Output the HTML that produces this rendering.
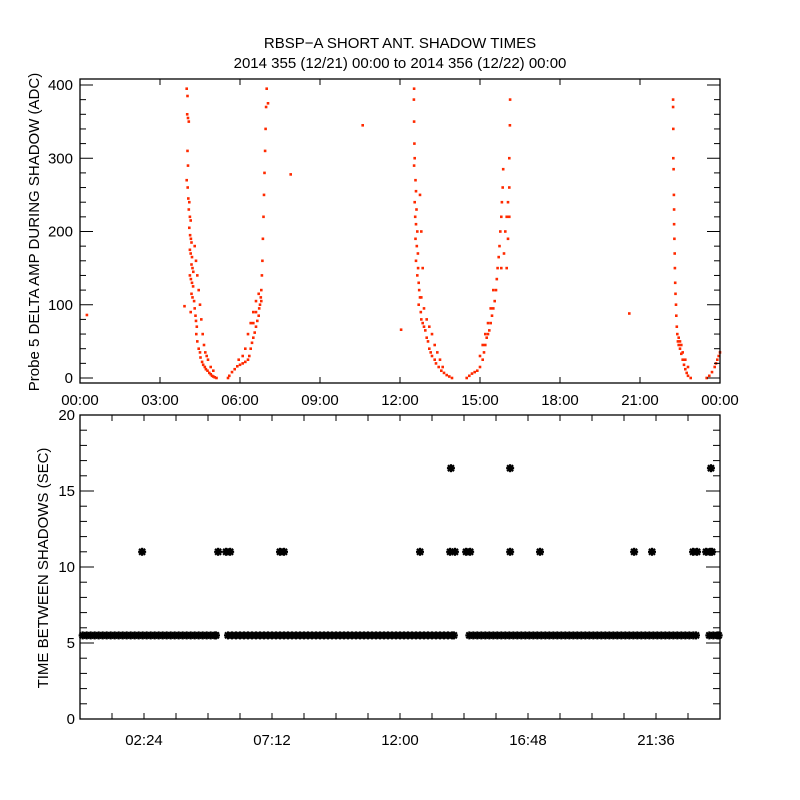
<!DOCTYPE html>
<html><head><meta charset="utf-8"><style>
html,body{margin:0;padding:0;background:#fff}
svg{display:block}
text{font-family:"Liberation Sans",sans-serif;font-size:15px;fill:#000}
</style></head><body>
<svg id="chart" width="800" height="800" viewBox="0 0 800 800" xmlns="http://www.w3.org/2000/svg">
<rect width="800" height="800" fill="#fff"/>
<text x="400" y="48" text-anchor="middle">RBSP−A SHORT ANT. SHADOW TIMES</text>
<text x="400" y="68" text-anchor="middle">2014 355 (12/21) 00:00 to 2014 356 (12/22) 00:00</text>
<g id="topPanel"></g>
<g id="botPanel"></g>
</svg>
<script>
// ---- top panel data ----
const topTimes = [0.26,7.9,10.6,12.04,20.6,
4.00,4.03,4.02,4.05,4.08,4.03,4.05,4.0,4.04,4.06,4.1,4.08,4.12,4.15,4.1,4.13,4.16,4.18,4.12,4.15,4.2,4.18,4.22,4.12,4.16,4.2,4.25,4.24,4.18,4.22,4.28,4.15,3.92,4.3,4.33,4.35,4.38,4.36,4.4,4.45,4.5,4.52,4.58,4.62,4.68,4.72,4.78,4.85,4.9,4.95,5.0,5.05,5.12,
4.3,4.35,4.4,4.45,4.5,4.55,4.6,4.65,4.7,4.75,4.8,4.9,5.0,
5.55,5.6,5.7,5.8,5.9,6.0,6.1,6.2,6.3,6.35,6.4,6.45,6.5,6.55,6.6,6.65,6.7,6.72,6.75,6.6,6.5,6.78,6.8,6.82,6.84,6.86,6.88,6.9,6.92,6.94,6.96,6.98,7.0,7.05,
6.3,6.4,6.5,6.6,6.2,6.1,5.95,6.7,6.8,
12.53,12.52,12.53,12.54,12.55,12.53,12.58,12.6,12.55,12.62,12.57,12.6,12.65,12.58,12.63,12.67,12.6,12.68,12.65,12.7,12.72,12.75,12.7,12.78,12.8,12.85,12.9,12.95,13.0,13.05,13.1,13.15,13.2,13.3,13.35,13.45,13.55,13.65,13.75,13.85,13.95,
12.8,12.9,13.0,13.1,13.2,13.3,13.4,13.5,13.6,12.85,12.8,12.75,
14.5,14.6,14.7,14.8,14.9,15.0,15.1,15.15,15.2,15.25,15.3,15.35,15.4,15.45,15.5,15.55,15.6,15.63,15.66,15.7,15.73,15.76,15.8,15.82,15.85,15.87,15.8,15.9,15.95,16.0,16.05,16.1,16.12,16.13,
15.0,15.1,15.2,15.3,15.4,15.5,16.0,16.05,16.1,16.1,
22.24,22.24,22.25,22.25,22.26,22.27,22.28,22.28,22.29,22.3,22.31,22.32,22.33,22.35,22.36,22.38,22.4,22.42,22.45,22.5,22.55,22.6,22.65,22.7,22.75,22.8,22.9,
22.45,22.5,22.55,22.6,22.7,22.8,
23.5,23.6,23.7,23.8,23.85,23.9,23.95,24.0];
const topValues = [86,278,345,66,88,
395,385,360,355,350,310,290,270,260,245,240,230,220,215,205,195,190,185,175,170,165,155,150,140,135,130,145,125,115,110,105,90,98,95,85,78,70,60,50,40,35,28,22,18,15,12,10,7,5,3,2,1,0,
180,160,140,120,100,80,60,45,35,30,25,15,10,
0,3,8,12,16,18,20,22,25,30,40,48,55,62,70,78,85,95,100,90,75,110,120,140,160,190,220,250,280,310,340,370,395,375,
60,75,90,105,40,30,25,115,105,
395,380,350,320,300,290,270,255,240,230,220,210,200,190,180,170,160,150,140,130,120,110,100,90,80,75,70,65,55,50,40,35,30,25,20,15,10,7,4,2,0,
110,95,80,70,60,45,35,25,15,150,200,250,
0,3,6,8,10,15,25,35,45,55,60,65,75,85,95,105,120,135,150,165,180,200,220,240,260,285,150,170,200,220,240,300,345,380,
30,45,60,75,95,120,150,190,260,220,
380,370,340,300,285,250,230,210,190,170,150,130,115,100,85,70,60,50,45,40,33,25,18,12,7,3,0,
55,50,45,35,25,15,
0,3,8,15,20,25,30,35];
const topYTicks = ["0","100","200","300","400"];
const topXTicks = ["00:00","03:00","06:00","09:00","12:00","15:00","18:00","21:00","00:00"];
// ---- bottom panel data ----
const botTimes = [0.1,0.25,0.4,0.55,0.7,0.85,1,1.15,1.3,1.45,1.6,1.75,1.9,2.05,2.2,2.35,2.5,2.65,2.8,2.95,3.1,3.25,3.4,3.55,3.7,3.85,4,4.15,4.3,4.45,4.6,4.75,4.9,5.05,5.1,
5.55,5.7,5.85,6,6.15,6.3,6.45,6.6,6.75,6.9,7.05,7.2,7.35,7.5,7.65,7.8,7.95,8.1,8.25,8.4,8.55,8.7,8.85,9,9.15,9.3,9.45,9.6,9.75,9.9,10.05,10.2,10.35,10.5,10.65,10.8,10.95,11.1,11.25,11.4,11.55,11.7,11.85,12,12.15,12.3,12.45,12.6,12.75,12.9,13.05,13.2,13.35,13.5,13.65,13.8,13.95,14.02,
14.6,14.75,14.9,15.05,15.2,15.35,15.5,15.65,15.8,15.95,16.1,16.25,16.4,16.55,16.7,16.85,17,17.15,17.3,17.45,17.6,17.75,17.9,18.05,18.2,18.35,18.5,18.65,18.8,18.95,19.1,19.25,19.4,19.55,19.7,19.85,20,20.15,20.3,20.45,20.6,20.75,20.9,21.05,21.2,21.35,21.5,21.65,21.8,21.95,22.1,22.25,22.4,22.55,22.7,22.85,23,23.1,
23.6,23.75,23.9,23.95,
2.33,5.18,5.48,5.63,7.5,7.65,12.75,13.88,14.06,14.48,14.63,16.13,17.25,20.78,21.45,22.99,23.14,23.48,23.63,23.7,
13.91,16.13,23.66];
const botValues = [5.5,5.5,5.5,5.5,5.5,5.5,5.5,5.5,5.5,5.5,5.5,5.5,5.5,5.5,5.5,5.5,5.5,5.5,5.5,5.5,5.5,5.5,5.5,5.5,5.5,5.5,5.5,5.5,5.5,5.5,5.5,5.5,5.5,5.5,5.5,
5.5,5.5,5.5,5.5,5.5,5.5,5.5,5.5,5.5,5.5,5.5,5.5,5.5,5.5,5.5,5.5,5.5,5.5,5.5,5.5,5.5,5.5,5.5,5.5,5.5,5.5,5.5,5.5,5.5,5.5,5.5,5.5,5.5,5.5,5.5,5.5,5.5,5.5,5.5,5.5,5.5,5.5,5.5,5.5,5.5,5.5,5.5,5.5,5.5,5.5,5.5,5.5,5.5,5.5,5.5,5.5,5.5,5.5,
5.5,5.5,5.5,5.5,5.5,5.5,5.5,5.5,5.5,5.5,5.5,5.5,5.5,5.5,5.5,5.5,5.5,5.5,5.5,5.5,5.5,5.5,5.5,5.5,5.5,5.5,5.5,5.5,5.5,5.5,5.5,5.5,5.5,5.5,5.5,5.5,5.5,5.5,5.5,5.5,5.5,5.5,5.5,5.5,5.5,5.5,5.5,5.5,5.5,5.5,5.5,5.5,5.5,5.5,5.5,5.5,5.5,5.5,
5.5,5.5,5.5,5.5,
11,11,11,11,11,11,11,11,11,11,11,11,11,11,11,11,11,11,11,11,
16.5,16.5,16.5];
const botYTicks = ["0","5","10","15","20"];
const botXTicks = ["02:24","07:12","12:00","16:48","21:36"];

const NS = "http://www.w3.org/2000/svg";
function mk(tag, attrs, parent){const e=document.createElementNS(NS,tag);for(const k in attrs)e.setAttribute(k,attrs[k]);parent.appendChild(e);return e;}

const T = {l:80,r:720,t:79,b:383};
const txs = h => T.l + h/24*(T.r-T.l);
const tys = v => 378 - v*0.7325;
const B = {l:80,r:720,t:415,b:719};
const bxs = h => B.l + h/24*(B.r-B.l);
const bys = v => B.b - v*(B.b-B.t)/20;

const topG = document.getElementById('topPanel');
const botG = document.getElementById('botPanel');

for(let i=0;i<topTimes.length;i++){
  const r = mk('rect',{x:(txs(topTimes[i])-1.3).toFixed(1),y:(tys(topValues[i])-1.3).toFixed(1),width:2.6,height:2.6,fill:'#ff2a00'},topG);
  
  
}
let f = mk('rect',{x:T.l,y:T.t,width:T.r-T.l,height:T.b-T.t,fill:'none',stroke:'#000','stroke-width':1.3},topG);


for(let v=0; v<=400; v+=20){
  const y=tys(v), len = v%100===0?13:6;
  mk('line',{x1:T.l,x2:T.l+len,y1:y,y2:y,stroke:'#000'},topG);
  mk('line',{x1:T.r,x2:T.r-len,y1:y,y2:y,stroke:'#000'},topG);
}
topYTicks.forEach(s=>{
  const t = mk('text',{x:73,y:tys(+s)+5,'text-anchor':'end'},topG);
  t.textContent=s;
  
  
});
topXTicks.forEach((s,i)=>{
  const x=txs(i*3);
  mk('line',{x1:x,x2:x,y1:T.b,y2:T.b-6,stroke:'#000'},topG);
  mk('line',{x1:x,x2:x,y1:T.t,y2:T.t+6,stroke:'#000'},topG);
  const t = mk('text',{x:x,y:405,'text-anchor':'middle'},topG);
  t.textContent=s;
  
  
});
let yl = mk('text',{x:0,y:0,'text-anchor':'middle',transform:'translate(39,232) rotate(-90)'},topG);
yl.textContent='Probe 5 DELTA AMP DURING SHADOW (ADC)';



for(let i=0;i<botTimes.length;i++){
  const cx=bxs(botTimes[i]), cy=bys(botValues[i]), r=4;
  const g = mk('g',{stroke:'#000','stroke-width':2.2},botG);
  
  
  mk('line',{x1:cx-r,x2:cx+r,y1:cy,y2:cy},g);
  mk('line',{x1:cx,x2:cx,y1:cy-r,y2:cy+r},g);
  mk('line',{x1:cx-3,x2:cx+3,y1:cy-3,y2:cy+3},g);
  mk('line',{x1:cx-3,x2:cx+3,y1:cy+3,y2:cy-3},g);
}
f = mk('rect',{x:B.l,y:B.t,width:B.r-B.l,height:B.b-B.t,fill:'none',stroke:'#000','stroke-width':1.3},botG);


for(let v=0; v<=20; v+=1){
  const y=bys(v), len = v%5===0?14:7;
  mk('line',{x1:B.l,x2:B.l+len,y1:y,y2:y,stroke:'#000'},botG);
  mk('line',{x1:B.r,x2:B.r-len,y1:y,y2:y,stroke:'#000'},botG);
}
botYTicks.forEach(s=>{
  const t = mk('text',{x:75,y:bys(+s)+5,'text-anchor':'end'},botG);
  t.textContent=s;
  
  
});
for(let k=1;k<20;k++){
  const x=bxs(k*1.2);
  mk('line',{x1:x,x2:x,y1:B.b,y2:B.b-6,stroke:'#000'},botG);
  mk('line',{x1:x,x2:x,y1:B.t,y2:B.t+6,stroke:'#000'},botG);
}
botXTicks.forEach((s,i)=>{
  const t = mk('text',{x:bxs((i+0.5)*4.8),y:745,'text-anchor':'middle'},botG);
  t.textContent=s;
  
  
});
yl = mk('text',{x:0,y:0,'text-anchor':'middle',transform:'translate(48,568) rotate(-90)'},botG);
yl.textContent='TIME BETWEEN SHADOWS (SEC)';


</script>
</body></html>
